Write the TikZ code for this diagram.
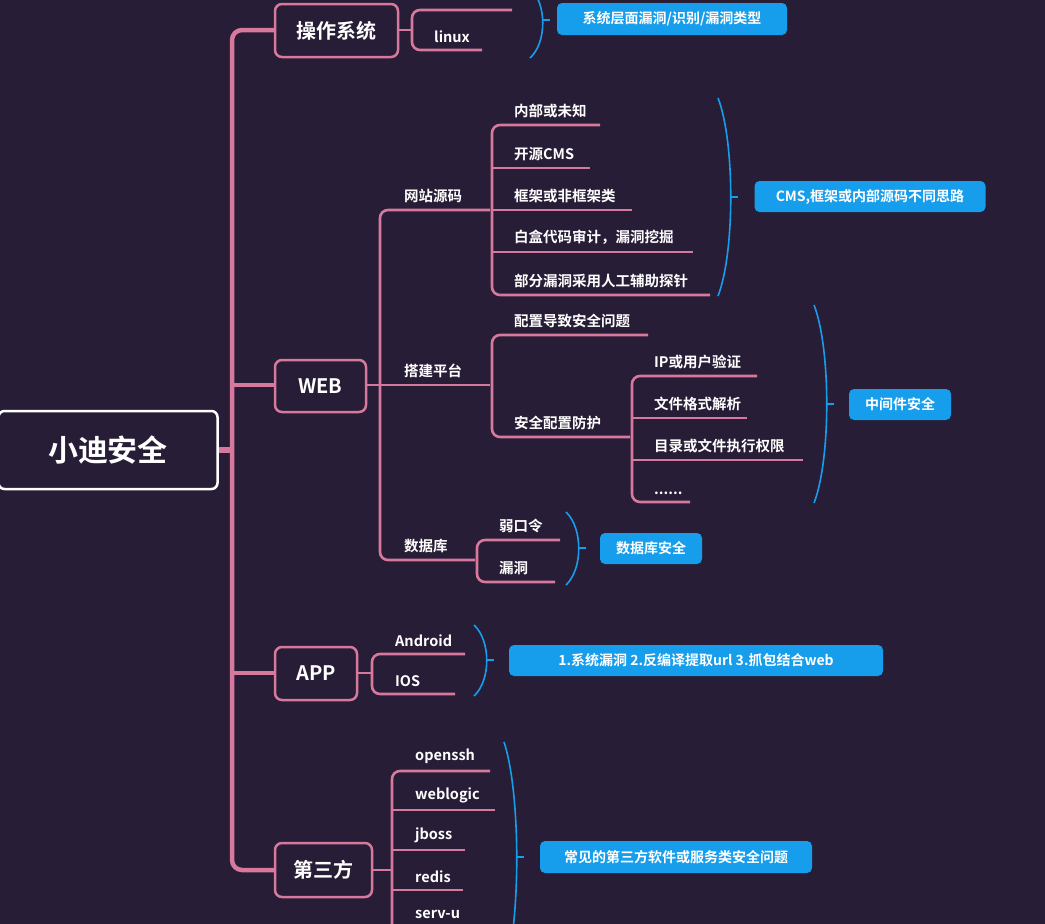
\documentclass[tikz,border=0pt]{standalone}
\usepackage{fontspec}
\setmainfont{Noto Sans CJK SC}[BoldFont=* Bold]
\begin{document}
\begin{tikzpicture}[x=1pt,y=-1pt,
  pk/.style={draw=pinkc,line width=2.6pt,rounded corners=8pt},
  trunk/.style={draw=pinkc,line width=4.5pt,rounded corners=10pt},
  mbox/.style={draw=pinkc,line width=2.5pt,rounded corners=7pt,fill=bgc,text=white,font=\bfseries\fontsize{20}{23}\selectfont,inner sep=0pt},
  lf/.style={text=white,font=\bfseries\fontsize{14.5}{16}\selectfont,anchor=south west,inner sep=1pt,yshift=4pt},
  bl/.style={fill=bluec,rounded corners=5pt,text=white,font=\bfseries\fontsize{14}{16}\selectfont,inner sep=0pt},
  br/.style={draw=bluec,line width=1.6pt}]
\definecolor{bgc}{HTML}{281D36}
\definecolor{pinkc}{HTML}{D6799C}
\definecolor{bluec}{HTML}{169DEB}
\fill[bgc] (0,0) rectangle (1045,924);
\useasboundingbox (0,0) rectangle (1045,924);
\newcommand\brc[4]{% x, top, bot, tipy
  \draw[br] (#1,#2) .. controls ({#1+17},{#2+0.22*(#3-#2)}) and ({#1+17},{#3-0.22*(#3-#2)}) .. (#1,#3);
  \draw[br] ({#1+12.5},#4) -- ({#1+20},#4);}
% trunk
\draw[trunk] (275,30) -- (232,30) -- (232,870) -- (275,870);
\draw[trunk] (232,385) -- (275,385);
\draw[trunk] (232,673) -- (275,673);
\draw[draw=pinkc,line width=6pt] (216,450) -- (234,450);
% root
\node[draw=white,line width=2.5pt,rounded corners=6pt,fill=bgc,text=white,font=\bfseries\fontsize{30}{33}\selectfont,minimum width=219pt,minimum height=78pt,inner sep=0pt] (root) at (108,450) {小迪安全};
% OS
\draw[pk] (398,30) -- (412,30);
\draw[pk] (512,10) -- (412,10) -- (412,50) -- (482,50);
\node[mbox,minimum width=123pt,minimum height=53pt] (os) at (336.5,30.5) {操作系统};
\node[lf] (linux) at (433,48) {linux};
\brc{530}{-12}{58}{20}
\node[bl,minimum width=230pt,minimum height=32pt] (b1) at (672,19) {系统层面漏洞/识别/漏洞类型};
% WEB
\draw[pk] (366,385) -- (380,385);
\draw[pk] (490,210) -- (380,210) -- (380,560) -- (475,560);
\draw[pk] (380,385) -- (490,385);
\node[mbox,minimum width=91pt,minimum height=52pt] (web) at (320.5,386) {WEB};
\node[lf] (wz) at (403,208) {网站源码};
\node[lf] (dj) at (403,383) {搭建平台};
\node[lf] (sjk) at (403,558) {数据库};
% 网站源码 children
\draw[pk] (600,125) -- (492,125) -- (492,295) -- (710,295);
\draw[pk] (492,168) -- (590,168);
\draw[pk] (492,210) -- (632,210);
\draw[pk] (492,252) -- (693,252);
\node[lf] (a1) at (513,123) {内部或未知};
\node[lf] (a2) at (513,166) {开源CMS};
\node[lf] (a3) at (513,208) {框架或非框架类};
\node[lf] (a4) at (513,250) {白盒代码审计，漏洞挖掘};
\node[lf] (a5) at (513,293) {部分漏洞采用人工辅助探针};
\brc{718}{98}{296}{197}
\node[bl,minimum width=231pt,minimum height=31pt] (b2) at (870,196.5) {CMS,框架或内部源码不同思路};
% 搭建平台 children
\draw[pk] (648,335) -- (492,335) -- (492,437) -- (630,437);
\node[lf] (c1) at (513,333) {配置导致安全问题};
\node[lf] (c2) at (513,435) {安全配置防护};
\draw[pk] (757,376) -- (632,376) -- (632,502) -- (690,502);
\draw[pk] (632,418) -- (747,418);
\draw[pk] (632,460) -- (803,460);
\node[lf] (d1) at (653,374) {IP或用户验证};
\node[lf] (d2) at (653,416) {文件格式解析};
\node[lf] (d3) at (653,458) {目录或文件执行权限};
\node[lf] (d4) at (653,500) {......};
\brc{814}{305}{503}{404}
\node[bl,minimum width=102pt,minimum height=31pt] (b3) at (900,404.5) {中间件安全};
% 数据库 children
\draw[pk] (560,540) -- (477,540) -- (477,582) -- (555,582);
\node[lf] (e1) at (498,538) {弱口令};
\node[lf] (e2) at (498,580) {漏洞};
\brc{566}{512}{585}{548}
\node[bl,minimum width=102pt,minimum height=31pt] (b4) at (651,548.5) {数据库安全};
% APP
\draw[pk] (357,673) -- (372,673);
\draw[pk] (465,654) -- (372,654) -- (372,694) -- (455,694);
\node[mbox,minimum width=82pt,minimum height=53pt] (app) at (316,673.5) {APP};
\node[lf] (f1) at (394,652) {Android};
\node[lf] (f2) at (394,692) {IOS};
\brc{474}{625}{696}{660}
\node[bl,minimum width=374pt,minimum height=31pt] (b5) at (696,660.5) {1.系统漏洞 2.反编译提取url 3.抓包结合web};
% 第三方
\draw[pk] (372,870) -- (392,870);
\draw[pk] (490,771) -- (392,771) -- (392,940);
\draw[pk] (392,810) -- (495,810);
\draw[pk] (392,850) -- (465,850);
\draw[pk] (392,890) -- (463,890);
\draw[pk] (392,930) -- (470,930);
\node[mbox,minimum width=97pt,minimum height=54pt] (dsf) at (323.5,870) {第三方};
\node[lf] (g1) at (414,769) {openssh};
\node[lf] (g2) at (414,808) {weblogic};
\node[lf] (g3) at (414,848) {jboss};
\node[lf] (g4) at (414,888) {redis};
\node[lf] (g5) at (414,924) {serv-u};
\brc{504}{742}{975}{857}
\node[bl,minimum width=272pt,minimum height=32pt] (b6) at (676,857) {常见的第三方软件或服务类安全问题};
\end{tikzpicture}
\end{document}
